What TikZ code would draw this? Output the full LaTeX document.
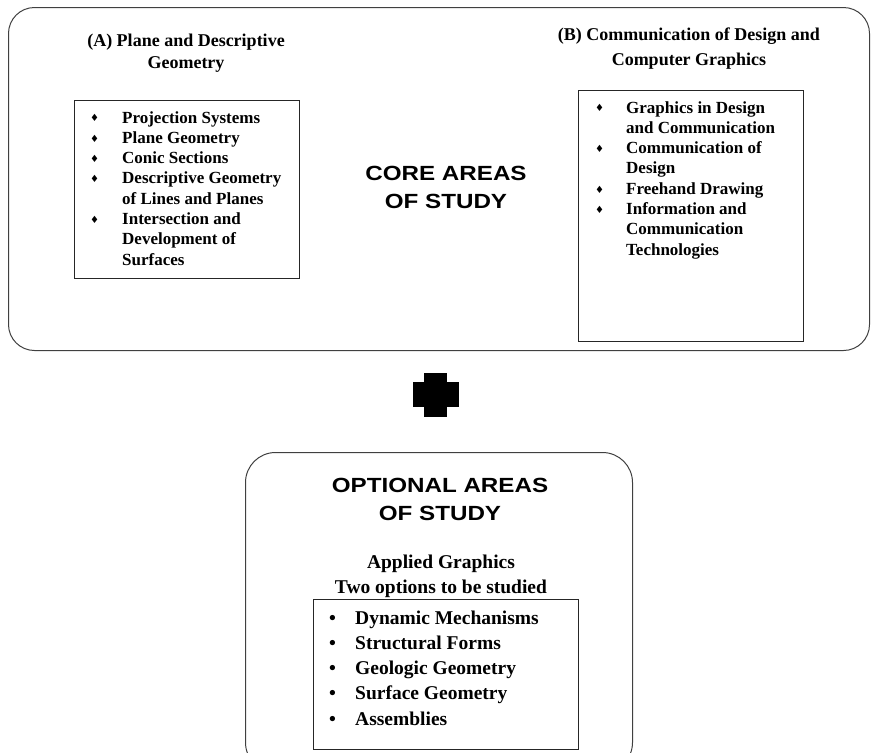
\documentclass[tikz,border=0pt]{standalone}
\usepackage{fontspec}
\setmainfont{Liberation Serif}
\newfontfamily\headfont{Liberation Sans}[FakeStretch=1.18]
\newfontfamily\symfont{DejaVu Sans}
\usepackage{tikz}
\usetikzlibrary{positioning}
\newcommand{\dia}{\raisebox{1.2pt}{\symfont\fontsize{10}{10}\selectfont ♦}}
\newcommand{\dotb}{\raisebox{0pt}{•}}

\begin{document}
\begin{tikzpicture}[
    x=1pt, y=-1pt,
    areabox/.style={draw=black!75, line width=1pt, rounded corners=26pt, inner sep=0pt, anchor=north west},
    listbox/.style={draw=black!85, line width=0.9pt, inner sep=0pt, anchor=north west},
    listtext/.style={inner sep=0pt, anchor=base west, font=\bfseries\fontsize{17}{20.3}\selectfont},
    optlist/.style={inner sep=0pt, anchor=base west, font=\bfseries\fontsize{19.5}{25.3}\selectfont},
    title/.style={align=center, inner sep=0pt, font=\bfseries\fontsize{18}{24}\selectfont},
    heading/.style={align=center, inner sep=0pt, font=\headfont\bfseries\fontsize{20.5}{28}\selectfont},
    plusarm/.style={fill=black, inner sep=0pt}
]
    \useasboundingbox (0,0) rectangle (871,753);
    \clip (0,0) rectangle (871,753);

    % Core areas
    \node[areabox, minimum width=861pt, minimum height=343pt] (core) at (8,7) {};
    \node[heading] (coretitle) at (446,187) {CORE AREAS\\OF STUDY};

    \node[title, font=\bfseries\fontsize{18}{22}\selectfont] (titleA) at (186,53) {(A) Plane and Descriptive\\Geometry};
    \node[listbox, minimum width=225pt, minimum height=178pt] (boxA) at (74,100) {};
    \node[listtext] (listA) at (90,123) {%
        \begin{tabular}[t]{@{}p{32pt}@{}l@{}}
        \dia & Projection Systems\\
        \dia & Plane Geometry\\
        \dia & Conic Sections\\
        \dia & Descriptive Geometry\\
             & of Lines and Planes\\
        \dia & Intersection and\\
             & Development of\\
             & Surfaces
        \end{tabular}};

    \node[title, font=\bfseries\fontsize{18}{25}\selectfont] (titleB) at (689,49) {(B) Communication of Design and\\Computer Graphics};
    \node[listbox, minimum width=225pt, minimum height=251pt] (boxB) at (578,90) {};
    \node[listtext] (listB) at (595,113) {%
        \begin{tabular}[t]{@{}p{31pt}@{}l@{}}
        \dia & Graphics in Design\\
             & and Communication\\
        \dia & Communication of\\
             & Design\\
        \dia & Freehand Drawing\\
        \dia & Information and\\
             & Communication\\
             & Technologies
        \end{tabular}};

    % Plus sign
    \node[plusarm, minimum width=23pt, minimum height=44pt] (plusv) at (435.5,395) {};
    \node[plusarm, minimum width=46pt, minimum height=25pt] (plush) at (436,394.5) {};

    % Optional areas
    \node[areabox, rounded corners=30pt, minimum width=387pt, minimum height=320pt] (optional) at (245,452) {};
    \node[heading] (opttitle) at (440,499) {OPTIONAL AREAS\\OF STUDY};
    \node[title, font=\bfseries\fontsize{19.5}{25}\selectfont] (applied) at (441,576) {Applied Graphics\\Two options to be studied};
    \node[listbox, minimum width=265pt, minimum height=150pt] (boxC) at (313,599) {};
    \node[optlist] (listC) at (329,624) {%
        \begin{tabular}[t]{@{}p{26pt}@{}l@{}}
        \dotb & Dynamic Mechanisms\\
        \dotb & Structural Forms\\
        \dotb & Geologic Geometry\\
        \dotb & Surface Geometry\\
        \dotb & Assemblies
        \end{tabular}};
\end{tikzpicture}
\end{document}
